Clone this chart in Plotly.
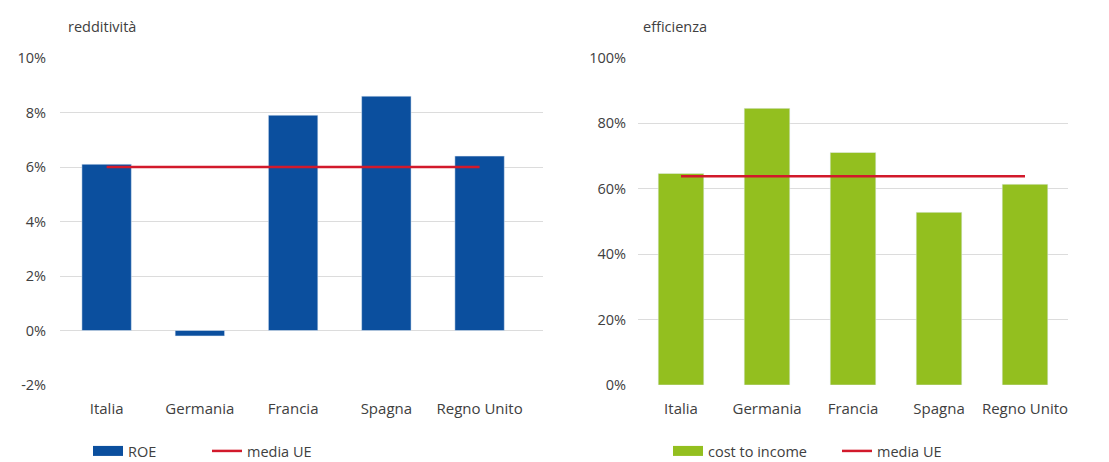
import plotly.graph_objects as go

paesi = ["Italia", "Germania", "Francia", "Spagna", "Regno Unito"]
roe = [6.1, -0.2, 7.9, 8.6, 6.4]
media_ue_roe = [6.0, 6.0, 6.0, 6.0, 6.0]
cost_to_income = [64.7, 84.6, 71.1, 52.8, 61.4]
media_ue_cti = [63.8, 63.8, 63.8, 63.8, 63.8]
roe_ticks = [-2, 0, 2, 4, 6, 8, 10]
roe_tick_labels = ["-2%", "0%", "2%", "4%", "6%", "8%", "10%"]
cti_ticks = [0, 20, 40, 60, 80, 100]
cti_tick_labels = ["0%", "20%", "40%", "60%", "80%", "100%"]

BLUE = "#0b4f9e"
GREEN = "#93bf1f"
RED = "#d2192b"
GRID = "#dcdcdc"
TXT = "#404040"
FONT = "Open Sans"

W, H = 1109, 462

fig = go.Figure()
# left panel
fig.add_trace(go.Bar(x=paesi, y=roe, name="ROE", marker_color=BLUE,
                     xaxis="x", yaxis="y", showlegend=False))
fig.add_trace(go.Scatter(x=[None], y=[None], name="ROE", mode="lines",
                         line=dict(color=BLUE, width=12), xaxis="x", yaxis="y",
                         legend="legend", hoverinfo="skip"))
fig.add_trace(go.Scatter(x=paesi, y=media_ue_roe, name="media UE", mode="lines",
                         line=dict(color=RED, width=2.5), xaxis="x", yaxis="y",
                         legend="legend"))
# right panel
fig.add_trace(go.Bar(x=paesi, y=cost_to_income, name="cost to income", marker_color=GREEN,
                     xaxis="x2", yaxis="y2", showlegend=False))
fig.add_trace(go.Scatter(x=[None], y=[None], name="cost to income", mode="lines",
                         line=dict(color=GREEN, width=12), xaxis="x2", yaxis="y2",
                         legend="legend2", hoverinfo="skip"))
fig.add_trace(go.Scatter(x=paesi, y=media_ue_cti, name="media UE", mode="lines",
                         line=dict(color=RED, width=2.5), xaxis="x2", yaxis="y2",
                         legend="legend2"))

ydom = [1 - 385 / H, 1 - 58 / H]
axfont = dict(family=FONT, size=15, color=TXT)
tkfont = dict(family=FONT, size=14.5, color=TXT)
lgfont = dict(family=FONT, size=14.5, color=TXT)

fig.update_layout(
    width=W, height=H,
    margin=dict(l=0, r=0, t=0, b=0, autoexpand=False),
    paper_bgcolor="white", plot_bgcolor="white",
    bargap=0.47,
    font=dict(family=FONT, size=14, color=TXT),
    xaxis=dict(domain=[60 / W, 543 / W], range=[-0.5, 4.68], showgrid=False,
               zeroline=False, showline=False, ticks="outside", ticklen=10,
               tickcolor="rgba(0,0,0,0)", tickfont=axfont, anchor="y"),
    yaxis=dict(domain=ydom, range=[-2, 10], tickvals=roe_ticks, ticktext=roe_tick_labels,
               showgrid=True, gridcolor=GRID, gridwidth=1, zeroline=False,
               showline=False, ticks="outside", ticklen=10, tickcolor="rgba(0,0,0,0)",
               tickfont=tkfont, anchor="x"),
    xaxis2=dict(domain=[638 / W, 1068 / W], range=[-0.5, 4.5], showgrid=False,
                zeroline=False, showline=False, ticks="outside", ticklen=10,
                tickcolor="rgba(0,0,0,0)", tickfont=axfont, anchor="y2"),
    yaxis2=dict(domain=ydom, range=[0, 100], tickvals=cti_ticks, ticktext=cti_tick_labels,
                showgrid=True, gridcolor=GRID, gridwidth=1, zeroline=False,
                showline=False, ticks="outside", ticklen=8, tickcolor="rgba(0,0,0,0)",
                tickfont=tkfont, anchor="x2"),
    legend=dict(orientation="h", x=88 / W, xanchor="left", y=1 - 451 / H,
                yanchor="middle", font=lgfont,
                bgcolor="rgba(0,0,0,0)", entrywidth=74, traceorder="normal"),
    legend2=dict(orientation="h", x=668 / W, xanchor="left", y=1 - 451 / H,
                 yanchor="middle", font=lgfont,
                 bgcolor="rgba(0,0,0,0)", entrywidth=124, traceorder="normal"),
    annotations=[
        dict(text="redditività", x=66 / W, y=1 - 27 / H, xref="paper", yref="paper",
             xanchor="left", yanchor="middle", showarrow=False,
             font=dict(family=FONT, size=14.5, color=TXT)),
        dict(text="efficienza", x=641 / W, y=1 - 27 / H, xref="paper", yref="paper",
             xanchor="left", yanchor="middle", showarrow=False,
             font=dict(family=FONT, size=14.5, color=TXT)),
    ],
)

fig.write_html("out.html")
